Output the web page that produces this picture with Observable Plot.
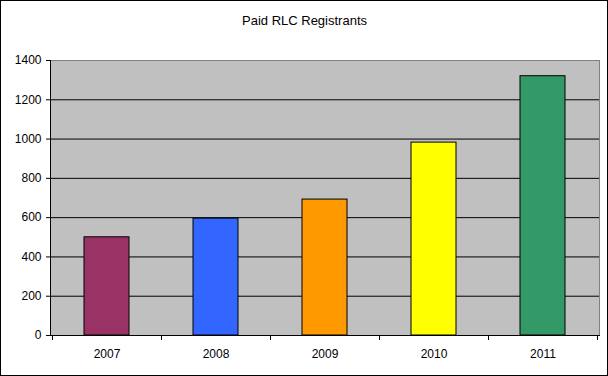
<!DOCTYPE html>
<html>
<head>
<meta charset="utf-8">
<script src="https://cdn.jsdelivr.net/npm/d3@7"></script>
<script src="https://cdn.jsdelivr.net/npm/@observablehq/plot@0.6"></script>
<style>
  html, body { margin: 0; padding: 0; background: white; }
  #chart svg { display: block; }
</style>
</head>
<body>
<div id="chart"></div>
<script>
const title = "Paid RLC Registrants";
const years = ["2007", "2008", "2009", "2010", "2011"];
const registrants = [500, 595, 692, 982, 1320];
const yTicks = [0, 200, 400, 600, 800, 1000, 1200, 1400];
const gridTicks = [200, 400, 600, 800, 1000, 1200];
const barColors = ["#993366", "#3366FF", "#FF9900", "#FFFF00", "#339966"];

const data = years.map((year, i) => ({year, value: registrants[i]}));

const W = 608, H = 376;
const mL = 50, mR = 9, mT = 60, mB = 41;

// axis lines and x tick marks at the category boundaries (from the band scale)
function axisLines(index, scales, values, dims) {
  const x = scales.x;
  const bw = x.bandwidth();
  const step = x(years[1]) - x(years[0]);
  const half = (step - bw) / 2;
  const edges = years.map(c => x(c) - half);
  edges.push(x(years[years.length - 1]) + bw + half);
  const left = dims.marginLeft, right = dims.width - dims.marginRight;
  const top = dims.marginTop, bottom = dims.height - dims.marginBottom;
  const g = d3.create("svg:g").attr("stroke", "black").attr("stroke-width", 1).attr("fill", "none");
  g.append("line").attr("x1", left + 0.5).attr("x2", left + 0.5).attr("y1", top).attr("y2", bottom + 1);
  g.append("line").attr("x1", left).attr("x2", right + 1).attr("y1", bottom + 0.5).attr("y2", bottom + 0.5);
  for (const e of edges) {
    const xe = Math.round(e) + 0.5;
    g.append("line").attr("x1", xe).attr("x2", xe).attr("y1", bottom).attr("y2", bottom + 5);
  }
  return g.node();
}

const chart = Plot.plot({
  width: W,
  height: H,
  marginLeft: mL,
  marginRight: mR,
  marginTop: mT,
  marginBottom: mB,
  style: {
    fontFamily: "'Liberation Sans', Arial, sans-serif",
    fontSize: "12px",
    color: "black",
    background: "white",
    outline: "1px solid black",
    outlineOffset: "-1px"
  },
  x: {domain: years, paddingInner: 0.59, paddingOuter: 0.295, label: null},
  y: {domain: [0, 1400], label: null},
  color: {domain: years, range: barColors},
  marks: [
    Plot.frame({fill: "#C0C0C0", stroke: "#808080"}),
    Plot.gridY(gridTicks, {stroke: "black", strokeOpacity: 1}),
    Plot.barY(data, {x: "year", y: "value", fill: "year", stroke: "black", strokeWidth: 1}),
    axisLines,
    Plot.axisY({ticks: yTicks, tickFormat: d3.format("d"), tickSize: 4, tickPadding: 5, label: null, fontSize: 12}),
    Plot.axisX({tickSize: 0, tickPadding: 14, label: null, fontSize: 12}),
    Plot.text([title], {frameAnchor: "top", dy: -40, dx: (mR - mL) / 2, fontSize: 13, lineAnchor: "middle"})
  ]
});

document.getElementById("chart").appendChild(chart);
</script>
</body>
</html>
